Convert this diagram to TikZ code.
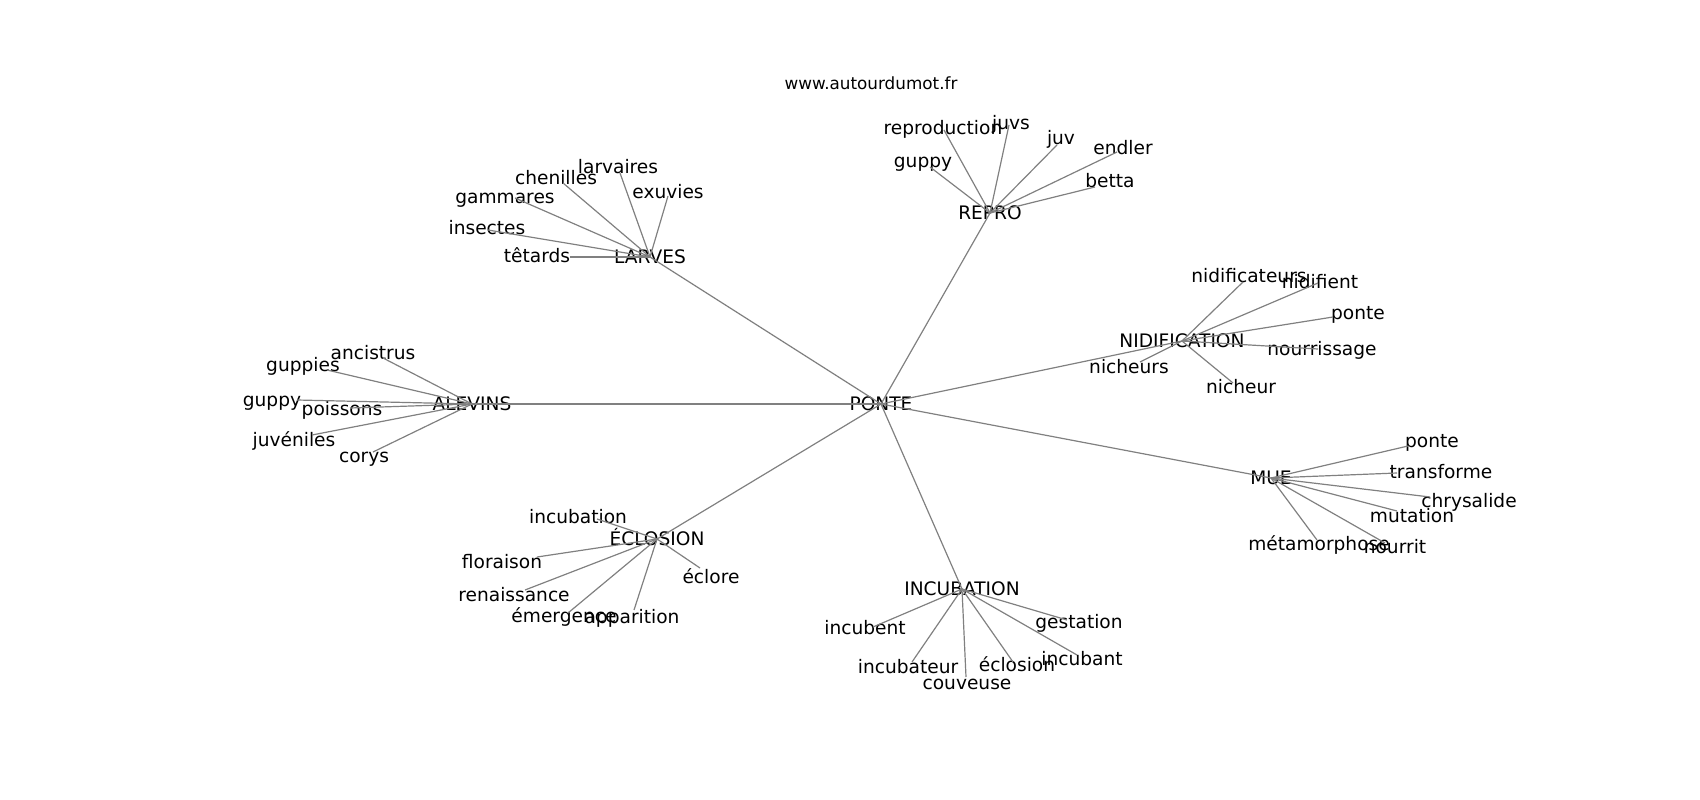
\documentclass[tikz,border=0pt]{standalone}
\usepackage{fontspec}
\setmainfont{DejaVu Sans}

\begin{document}
\begin{tikzpicture}[x=1pt, y=-1pt,
      wort/.style={inner sep=0pt, font=\fontsize{18.6}{20}\selectfont, text height=18pt, text depth=4.5pt},
      kante/.style={draw=black!50, line width=1.2pt}]

\useasboundingbox (0,0) rectangle (1700,800);
\node[inner sep=0pt, font=\fontsize{16.8}{18}\selectfont] (titel) at (871,83) {www.autourdumot.fr};

% Mitte und Gruppen
\node[wort] (ponte) at (881,404) {PONTE};
\node[wort] (larves) at (650,257) {LARVES};
\node[wort] (repro) at (990,213) {REPRO};
\node[wort] (nidif) at (1182,341) {NIDIFICATION};
\node[wort] (mue) at (1271,478) {MUE};
\node[wort] (incub) at (962,589) {INCUBATION};
\node[wort] (eclos) at (657,539) {ÉCLOSION};
\node[wort] (alevins) at (472,404) {ALEVINS};

\draw[kante] (ponte.center) -- (larves.center);
\draw[kante] (ponte.center) -- (repro.center);
\draw[kante] (ponte.center) -- (nidif.center);
\draw[kante] (ponte.center) -- (mue.center);
\draw[kante] (ponte.center) -- (incub.center);
\draw[kante] (ponte.center) -- (eclos.center);
\draw[kante] (ponte.center) -- (alevins.center);

% LARVES
\node[wort] (larvaires) at (618,167) {larvaires};
\node[wort] (chenilles) at (556,178) {chenilles};
\node[wort] (exuvies) at (668,192) {exuvies};
\node[wort] (gammares) at (505,197) {gammares};
\node[wort] (insectes) at (487,228) {insectes};
\node[wort] (tetards) at (537,256) {têtards};
\coordinate (larvaires-e) at (620,173);
\coordinate (chenilles-e) at (563,183);
\coordinate (exuvies-e) at (668,196);
\coordinate (gammares-e) at (515,198);
\coordinate (insectes-e) at (488,230);
\coordinate (tetards-e) at (570,257);
\draw[kante] (larves.center) -- (larvaires-e);
\draw[kante] (larves.center) -- (chenilles-e);
\draw[kante] (larves.center) -- (exuvies-e);
\draw[kante] (larves.center) -- (gammares-e);
\draw[kante] (larves.center) -- (insectes-e);
\draw[kante] (larves.center) -- (tetards-e);

% REPRO
\node[wort] (reproduction) at (943,128) {reproduction};
\node[wort] (juvs) at (1011,123) {juvs};
\node[wort] (juv) at (1061,138) {juv};
\node[wort] (endler) at (1123,148) {endler};
\node[wort] (guppy1) at (923,161) {guppy};
\node[wort] (betta) at (1110,181) {betta};
\coordinate (reproduction-e) at (944,130);
\coordinate (juvs-e) at (1009,125);
\coordinate (juv-e) at (1057,145);
\coordinate (endler-e) at (1117,152);
\coordinate (guppy1-e) at (930,167);
\coordinate (betta-e) at (1095,187);
\draw[kante] (repro.center) -- (reproduction-e);
\draw[kante] (repro.center) -- (juvs-e);
\draw[kante] (repro.center) -- (juv-e);
\draw[kante] (repro.center) -- (endler-e);
\draw[kante] (repro.center) -- (guppy1-e);
\draw[kante] (repro.center) -- (betta-e);

% NIDIFICATION
\node[wort] (nidificateurs) at (1249,276) {nidificateurs};
\node[wort] (nidifient) at (1320,282) {nidifient};
\node[wort] (ponte1) at (1358,313) {ponte};
\node[wort] (nourrissage) at (1322,349) {nourrissage};
\node[wort] (nicheurs) at (1129,367) {nicheurs};
\node[wort] (nicheur) at (1241,387) {nicheur};
\coordinate (nidificateurs-e) at (1243,282);
\coordinate (nidifient-e) at (1318,283);
\coordinate (ponte1-e) at (1333,317);
\coordinate (nourrissage-e) at (1318,349);
\coordinate (nicheurs-e) at (1140,362);
\coordinate (nicheur-e) at (1233,383);
\draw[kante] (nidif.center) -- (nidificateurs-e);
\draw[kante] (nidif.center) -- (nidifient-e);
\draw[kante] (nidif.center) -- (ponte1-e);
\draw[kante] (nidif.center) -- (nourrissage-e);
\draw[kante] (nidif.center) -- (nicheurs-e);
\draw[kante] (nidif.center) -- (nicheur-e);

% MUE
\node[wort] (ponte2) at (1432,441) {ponte};
\node[wort] (transforme) at (1441,472) {transforme};
\node[wort] (chrysalide) at (1469,501) {chrysalide};
\node[wort] (mutation) at (1412,516) {mutation};
\node[wort] (metamorphose) at (1319,544) {métamorphose};
\node[wort] (nourrit) at (1395,547) {nourrit};
\coordinate (ponte2-e) at (1408,446);
\coordinate (transforme-e) at (1397,473);
\coordinate (chrysalide-e) at (1430,497);
\coordinate (mutation-e) at (1397,511);
\coordinate (metamorphose-e) at (1317,540);
\coordinate (nourrit-e) at (1385,543);
\draw[kante] (mue.center) -- (ponte2-e);
\draw[kante] (mue.center) -- (transforme-e);
\draw[kante] (mue.center) -- (chrysalide-e);
\draw[kante] (mue.center) -- (mutation-e);
\draw[kante] (mue.center) -- (metamorphose-e);
\draw[kante] (mue.center) -- (nourrit-e);

% INCUBATION
\node[wort] (incubent) at (865,628) {incubent};
\node[wort] (gestation) at (1079,622) {gestation};
\node[wort] (incubateur) at (908,667) {incubateur};
\node[wort] (eclosion) at (1017,665) {éclosion};
\node[wort] (incubant) at (1082,659) {incubant};
\node[wort] (couveuse) at (967,683) {couveuse};
\coordinate (incubent-e) at (873,627);
\coordinate (gestation-e) at (1067,620);
\coordinate (incubateur-e) at (912,662);
\coordinate (eclosion-e) at (1013,662);
\coordinate (incubant-e) at (1077,655);
\coordinate (couveuse-e) at (966,677);
\draw[kante] (incub.center) -- (incubent-e);
\draw[kante] (incub.center) -- (gestation-e);
\draw[kante] (incub.center) -- (incubateur-e);
\draw[kante] (incub.center) -- (eclosion-e);
\draw[kante] (incub.center) -- (incubant-e);
\draw[kante] (incub.center) -- (couveuse-e);

% ÉCLOSION
\node[wort] (incubation) at (578,517) {incubation};
\node[wort] (floraison) at (502,562) {floraison};
\node[wort] (eclore) at (711,577) {éclore};
\node[wort] (renaissance) at (514,595) {renaissance};
\node[wort] (emergence) at (564,616) {émergence};
\node[wort] (apparition) at (632,617) {apparition};
\coordinate (incubation-e) at (597,519);
\coordinate (floraison-e) at (537,557);
\coordinate (eclore-e) at (700,568);
\coordinate (renaissance-e) at (525,590);
\coordinate (emergence-e) at (568,613);
\coordinate (apparition-e) at (634,610);
\draw[kante] (eclos.center) -- (incubation-e);
\draw[kante] (eclos.center) -- (floraison-e);
\draw[kante] (eclos.center) -- (eclore-e);
\draw[kante] (eclos.center) -- (renaissance-e);
\draw[kante] (eclos.center) -- (emergence-e);
\draw[kante] (eclos.center) -- (apparition-e);

% ALEVINS
\node[wort] (ancistrus) at (373,353) {ancistrus};
\node[wort] (guppies) at (303,365) {guppies};
\node[wort] (guppy2) at (272,400) {guppy};
\node[wort] (poissons) at (342,409) {poissons};
\node[wort] (juveniles) at (294,440) {juvéniles};
\node[wort] (corys) at (364,456) {corys};
\coordinate (ancistrus-e) at (383,358);
\coordinate (guppies-e) at (327,370);
\coordinate (guppy2-e) at (297,400);
\coordinate (poissons-e) at (350,408);
\coordinate (juveniles-e) at (312,435);
\coordinate (corys-e) at (373,452);
\draw[kante] (alevins.center) -- (ancistrus-e);
\draw[kante] (alevins.center) -- (guppies-e);
\draw[kante] (alevins.center) -- (guppy2-e);
\draw[kante] (alevins.center) -- (poissons-e);
\draw[kante] (alevins.center) -- (juveniles-e);
\draw[kante] (alevins.center) -- (corys-e);

\end{tikzpicture}
\end{document}
